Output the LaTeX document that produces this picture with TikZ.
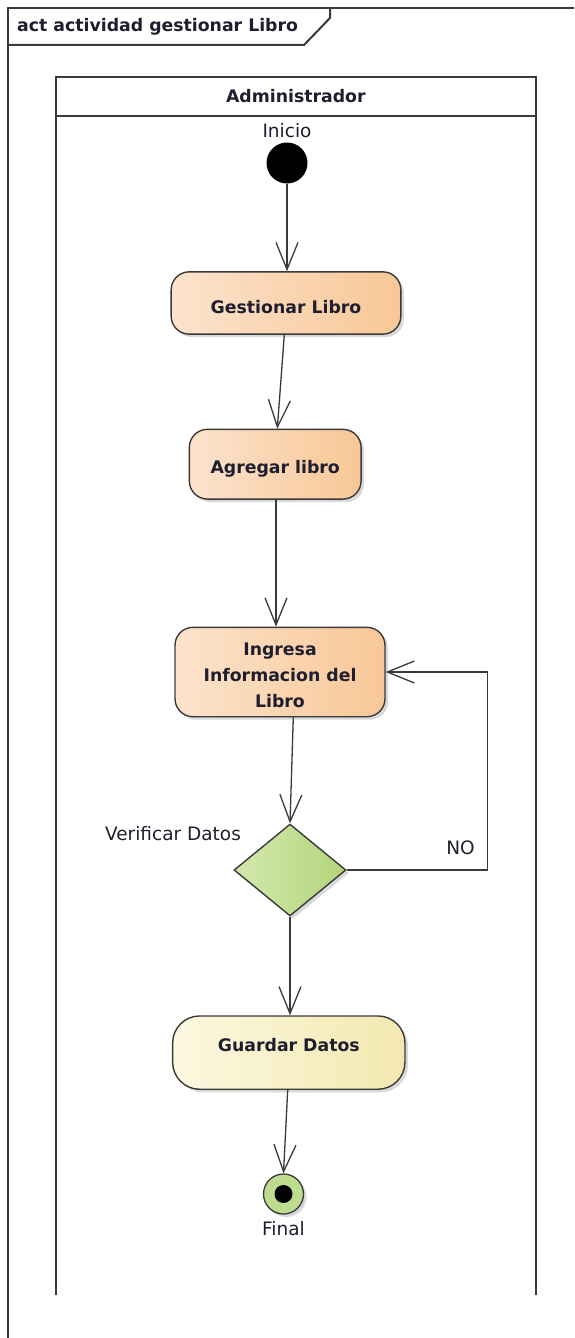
\documentclass[tikz,border=0pt]{standalone}
\usepackage{fontspec}
\setmainfont{DejaVu Sans}
\usetikzlibrary{arrows.meta,shapes.geometric,shadows}

\definecolor{frameline}{HTML}{3A3A3A}
\definecolor{actL}{HTML}{FCE3CD}
\definecolor{actR}{HTML}{F8C796}
\definecolor{decL}{HTML}{D4E9AE}
\definecolor{decR}{HTML}{B3D47A}
\definecolor{endL}{HTML}{FCF8E0}
\definecolor{endR}{HTML}{F3E8B0}
\definecolor{finfill}{HTML}{BDDC8E}
\definecolor{txt}{HTML}{1E1E2E}

\newcommand\boldlbl{\fontsize{17.3}{25.8}\selectfont\bfseries}
\newcommand\plainlbl{\fontsize{18.5}{22}\selectfont}

\tikzset{
  softshadow/.style={drop shadow={shadow xshift=3pt,shadow yshift=-3pt,fill=black,opacity=0.15}},
  activity/.style={rectangle, rounded corners=18pt, draw=frameline, line width=1.4pt,
    left color=actL, right color=actR, softshadow, font=\boldlbl, text=txt, inner sep=0pt},
  decision/.style={diamond, draw=frameline, line width=1.4pt, left color=decL, right color=decR,
    softshadow, inner sep=0pt},
  flow/.style={draw=frameline, line width=1.3pt,
    -{Straight Barb[length=27pt,width=22pt,line width=1.3pt]}},
  framestroke/.style={draw=frameline, line width=2pt},
  caption/.style={font=\plainlbl, text=txt, inner sep=0pt},
}

\begin{document}
\begin{tikzpicture}[x=1pt,y=-1pt]
\useasboundingbox (0,0) rectangle (574,1338);

% outer activity frame with its name tab
\draw[framestroke] (574,7.7) -- (7.7,7.7) -- (7.7,1340);
\draw[framestroke] (7.7,45) -- (304,45) -- (330,18) -- (330,7.7);
\node[font=\boldlbl, text=txt, anchor=west, inner sep=0pt] (title) at (17,26.5) {act actividad gestionar Libro};

% swimlane
\draw[framestroke] (55.7,1295) -- (55.7,76.7) -- (536,76.7) -- (536,1295);
\draw[framestroke] (55.7,115.7) -- (536,115.7);
\node[font=\boldlbl, text=txt, inner sep=0pt] (lane) at (295.8,96) {Administrador};

% initial node
\node[circle, fill=black, minimum size=41, inner sep=0pt] (start) at (287,163) {};
\node[caption] (startlbl) at (287,131) {Inicio};

% activities
\node[activity, minimum width=229.7, minimum height=62.3, text height=20, text depth=0]
  (gest) at (286,303) {Gestionar Libro};
\node[activity, minimum width=171.7, minimum height=69.7, text height=18.6, text depth=0]
  (agreg) at (275.2,464.2) {Agregar libro};
\node[activity, minimum width=210, minimum height=89.4, align=center, text height=71.1]
  (ingr) at (280,672) {Ingresa\\Informacion del\\Libro};

% decision
\node[decision, minimum width=112, minimum height=92] (dec) at (290,870) {};
\node[caption] (declbl) at (173,833.3) {Verificar Datos};

% saving activity
\node[activity, rounded corners=27pt, left color=endL, right color=endR,
  minimum width=232.3, minimum height=73.3, text height=12.9, text depth=15]
  (guard) at (288.8,1052.6) {Guardar Datos};

% final node
\node[circle, draw=frameline, line width=1.3pt, fill=finfill, minimum size=40,
  inner sep=0pt, softshadow] (fin) at (283.5,1194) {};
\fill[black] (fin.center) circle (9);
\node[caption] (finlbl) at (283.5,1228.5) {Final};

% control flows
\draw[flow] (start.south) -- (start.south |- gest.north);
\draw[flow] ([xshift=-1.7pt]gest.south) -- ([xshift=2.1pt]agreg.north);
\draw[flow] ([xshift=0.8pt]agreg.south) -- ([xshift=-4pt]ingr.north);
\draw[flow] ([xshift=13.3pt]ingr.south) -- (dec.north);
\draw[flow] (dec.south) -- (dec.south |- guard.north);
\draw[flow] ([xshift=-1.1pt]guard.south) -- (fin.north);
\draw[flow] (dec.east) -| ([xshift=101.7pt]ingr.east) -- (ingr.east);
\node[caption] (nolbl) at (460.5,847.3) {NO};
\end{tikzpicture}
\end{document}
